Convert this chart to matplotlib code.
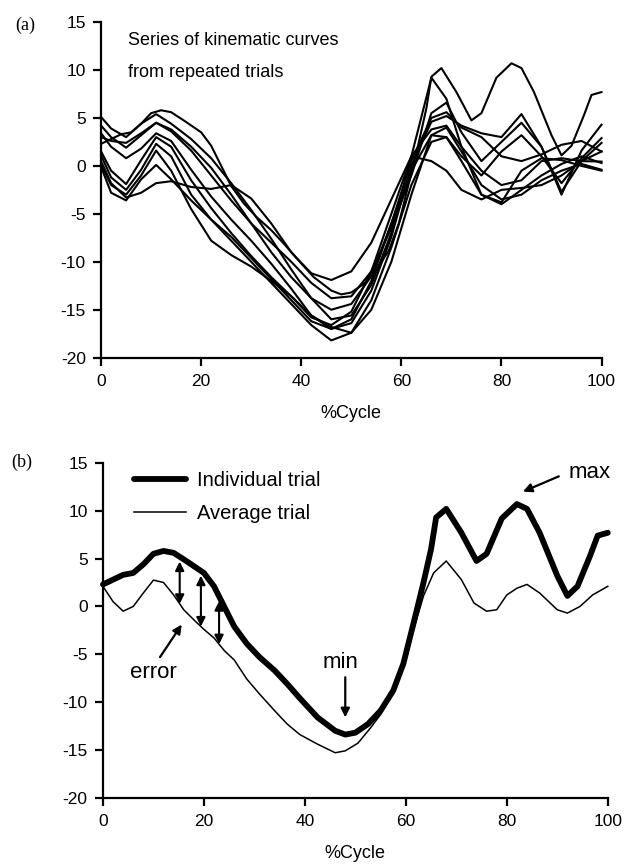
import numpy as np
import matplotlib
matplotlib.use('Agg')
import matplotlib.pyplot as plt

plt.rcParams['font.family'] = ['Liberation Sans', 'DejaVu Sans']
plt.rcParams['axes.unicode_minus'] = False

# %cycle points shared by the repeated trials of panel (a)
grid_x = [0, 2, 5, 8, 11, 14, 18, 22, 26, 30, 34, 38, 42, 46, 50, 54, 58, 62, 66, 69, 72, 76, 80, 84, 88, 92, 96, 100]

trial_1 = [5.1, 3.9, 3.0, 4.4, 5.4, 4.4, 2.8, 0.8, -1.8, -4.6, -7.6, -10.8, -13.8, -16.0, -15.6, -12.4, -7.0, 1.0, 9.2, 7.0, 2.0, -3.0, -3.8, -0.5, 0.8, 0.6, 0.0, -0.5]
trial_2 = [4.2, 3.0, 1.9, 3.2, 4.5, 3.6, 1.6, -1.0, -3.6, -6.0, -8.0, -10.0, -12.2, -13.8, -13.6, -11.0, -6.5, -1.0, 5.5, 6.6, 3.5, 0.5, 2.5, 4.5, 2.0, -2.7, 0.5, 2.4]
trial_3 = [3.4, 2.0, 0.8, 1.8, 3.4, 2.6, -0.4, -3.2, -5.6, -7.8, -10.2, -12.8, -15.6, -17.0, -16.4, -13.0, -7.4, 0.0, 4.6, 5.2, 4.2, 3.4, 3.0, 5.4, 2.0, -3.0, 1.6, 4.3]
trial_4 = [0.5, -1.8, -3.3, -2.8, -1.8, -1.6, -2.2, -2.4, -2.0, -3.4, -6.0, -9.0, -11.2, -11.9, -11.0, -8.0, -3.5, 1.0, 0.5, -0.5, -2.5, -3.5, -2.5, -2.3, -2.0, -1.0, 0.5, 1.5]
trial_5 = [1.5, -0.5, -1.9, 0.6, 3.0, 2.0, -1.5, -4.4, -7.0, -9.4, -11.6, -13.6, -15.8, -16.6, -15.2, -11.0, -5.0, 1.0, 3.8, 4.2, 2.0, -0.5, -2.0, -1.5, 0.5, 0.8, 0.5, 0.45]
trial_6 = [1.1, -1.2, -2.5, -0.4, 2.3, 1.0, -3.0, -5.6, -7.8, -10.0, -12.2, -14.4, -16.6, -18.2, -17.4, -14.0, -8.5, -2.0, 2.5, 3.0, 0.5, -3.0, -4.0, -2.5, -1.0, 0.2, 1.0, 0.3]
trial_7 = [0.2, -2.0, -3.0, -1.0, 1.6, -0.5, -4.5, -7.8, -9.3, -10.5, -12.0, -13.6, -15.6, -16.8, -17.4, -15.0, -10.0, -3.0, 3.2, 4.0, 1.5, -2.0, -3.5, -3.0, -1.5, -0.5, 0.2, -0.4]
trial_8 = [-0.1, -2.8, -3.6, -1.4, 0.1, -1.4, -3.6, -5.6, -7.4, -9.6, -11.8, -14.0, -16.2, -17.0, -16.0, -12.0, -6.0, -0.5, 3.2, 3.0, 1.0, -1.0, 1.5, 3.2, 1.0, -1.8, 0.8, 2.9]
trial_9 = [3.0, 2.6, 2.4, 3.4, 4.5, 3.8, 2.0, -0.2, -3.0, -6.0, -9.0, -11.6, -13.8, -15.0, -14.4, -11.5, -6.0, 0.5, 5.0, 5.6, 4.0, 3.0, 1.0, 0.5, 1.2, 2.2, 2.6, 1.5]

# the individual trial (also one of the curves of panel a)
indiv_x = [0, 4, 6, 8, 10, 12, 14, 16.5, 20, 22, 24, 26, 28.5, 31, 34, 36.5, 39, 42.5, 46, 48,
           50, 52.5, 55, 57.5, 59.5, 61.5, 63.5, 65, 66, 68, 71, 74, 76, 79, 82, 84, 86.5, 90, 92, 94,
           96.5, 98, 100]
indiv_y = [2.3, 3.3, 3.5, 4.4, 5.5, 5.8, 5.6, 4.75, 3.5, 2.1, 0.0, -2.1, -3.9, -5.3, -6.7, -8.1, -9.6, -11.6, -13.0, -13.4,
           -13.2, -12.3, -10.9, -8.8, -6.0, -1.8, 2.5, 6.0, 9.3, 10.2, 7.7, 4.75, 5.5, 9.2, 10.7, 10.2, 7.7, 3.2, 1.1, 2.1,
           5.3, 7.4, 7.7]

# average trial
avg_x = [0, 2, 4, 6, 8, 10, 12, 14, 16, 18, 20, 22, 24, 26, 28.5, 31, 34, 36.5, 39, 42.5,
         46, 48, 50.5, 53, 55, 57.5, 59.5, 61.5, 63.5, 65.5, 68, 71, 73.5, 76, 78, 80, 82, 84, 86.5, 90,
         92, 94.5, 97, 100]
avg_y = [2.1, 0.5, -0.5, 0.0, 1.4, 2.75, 2.5, 1.2, -0.35, -1.4, -2.4, -3.3, -4.6, -5.6, -7.6, -9.15, -10.9, -12.3, -13.4, -14.4,
         -15.3, -15.1, -14.3, -12.7, -11.3, -8.8, -6.0, -2.5, 1.1, 3.5, 4.75, 2.8, 0.35, -0.5, -0.35, 1.2, 1.9, 2.3, 1.4, -0.35,
         -0.7, 0.0, 1.2, 2.1]

# where the error arrows are drawn (%cycle)
error_x = [15.2, 19.4, 23.0]

x_ticks = [0, 20, 40, 60, 80, 100]
y_ticks = [-20, -15, -10, -5, 0, 5, 10, 15]


def style_axes(ax):
    ax.set_xlim(0, 100)
    ax.set_ylim(-20, 15)
    ax.set_xticks(x_ticks)
    ax.set_yticks(y_ticks)
    for side in ['top', 'right']:
        ax.spines[side].set_visible(False)
    for side in ['left', 'bottom']:
        ax.spines[side].set_linewidth(1.6)
    ax.tick_params(direction='out', length=6, width=1.6, labelsize=12.5)
    ax.tick_params(axis='x', pad=6)
    ax.tick_params(axis='y', pad=5)
    ax.set_xlabel('%Cycle', fontsize=13, labelpad=11)


def arrow(ax, start, end, lw=1.6, scale=13, style='-|>'):
    ax.annotate('', xy=end, xytext=start,
                arrowprops=dict(arrowstyle=style, color='black', lw=lw,
                                mutation_scale=scale, shrinkA=0, shrinkB=0))


fig = plt.figure(figsize=(6.24, 8.65), dpi=100)
serif = ['Liberation Serif', 'DejaVu Serif']

# ---- panel (a) ----
ax1 = fig.add_axes([0.162, 0.5865, 0.802, 0.388])
for trial in [trial_1, trial_2, trial_3, trial_4, trial_5, trial_6, trial_7, trial_8, trial_9]:
    ax1.plot(grid_x, trial, color='black', lw=1.5, clip_on=False)
ax1.plot(indiv_x, indiv_y, color='black', lw=1.5, clip_on=False)
style_axes(ax1)
ax1.text(5.4, 13.1, 'Series of kinematic curves', fontsize=13, va='center')
ax1.text(5.4, 9.7, 'from repeated trials', fontsize=13, va='center')
fig.text(0.04, 0.971, '(a)', family=serif, fontsize=13, va='center', ha='center')

# ---- panel (b) ----
ax2 = fig.add_axes([0.165, 0.0778, 0.809, 0.387])
ax2.plot(indiv_x, indiv_y, color='black', lw=4.2, solid_capstyle='round', solid_joinstyle='round',
         label='Individual trial', clip_on=False)
ax2.plot(avg_x, avg_y, color='black', lw=1.1, label='Average trial', clip_on=False)
style_axes(ax2)
ax2.legend(loc='upper left', bbox_to_anchor=(0.045, 1.0), frameon=False, fontsize=14.5,
           handlelength=2.6, handletextpad=0.55, labelspacing=0.7, borderaxespad=0)

# error arrows between the two curves
for ex in error_x:
    top = np.interp(ex, indiv_x, indiv_y) - 0.5
    bot = np.interp(ex, avg_x, avg_y)
    arrow(ax2, (ex, top), (ex, bot), lw=1.5, scale=13, style='<|-|>')
ax2.text(9.9, -6.9, 'error', fontsize=16, ha='center', va='center')
arrow(ax2, (11.3, -5.3), (15.6, -1.9))

# min / max of the individual trial
i_min = int(np.argmin(indiv_y))
i_max = int(np.argmax(indiv_y))
ax2.text(indiv_x[i_min] - 1.0, -5.9, 'min', fontsize=16, ha='center', va='center')
arrow(ax2, (indiv_x[i_min], -7.4), (indiv_x[i_min], indiv_y[i_min] + 1.8))
ax2.text(96.4, 14.0, 'max', fontsize=16, ha='center', va='center')
arrow(ax2, (90.3, 13.6), (indiv_x[i_max] + 1.2, indiv_y[i_max] + 1.3))
fig.text(0.035, 0.466, '(b)', family=serif, fontsize=13, va='center', ha='center')

fig.savefig('out.png', dpi=100)
